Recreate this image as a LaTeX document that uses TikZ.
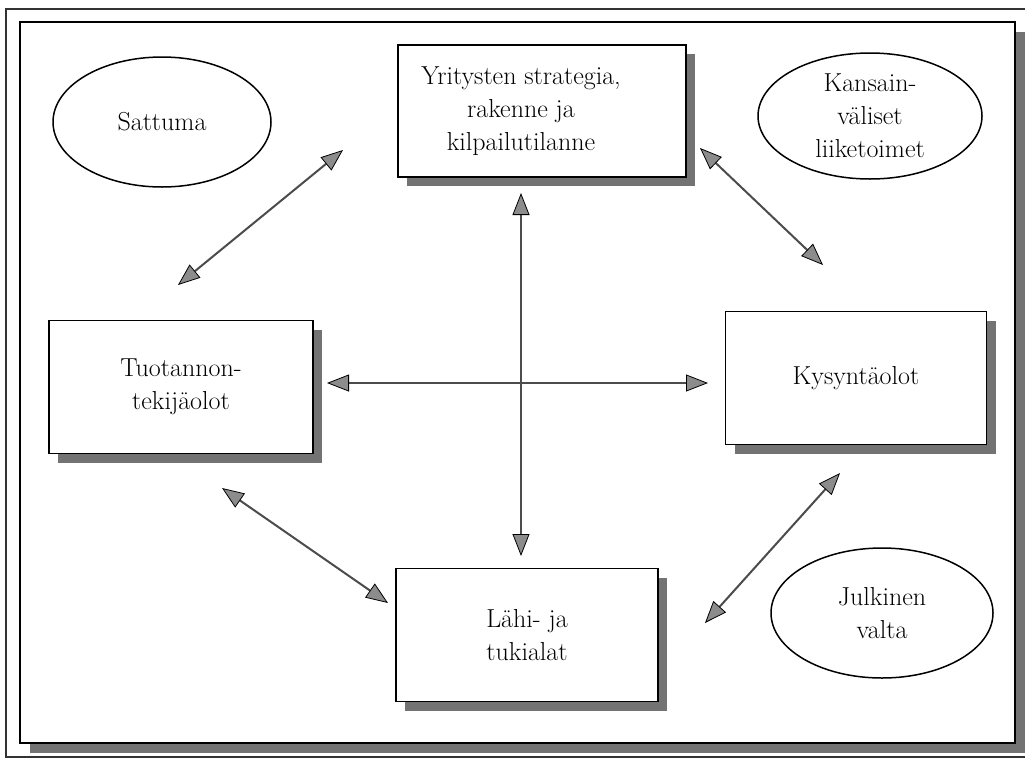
\documentclass[tikz,border=0pt]{standalone}
\usetikzlibrary{arrows.meta,shadows,shapes.geometric}
\begin{document}
\begin{tikzpicture}[x=1pt,y=-1pt,
  txt/.style={font=\fontsize{26}{33}\selectfont, align=center},
  shade/.style={fill=black!55},
  box/.style={draw=black, line width=1.6pt, fill=white, txt, inner sep=0pt,
    drop shadow={opacity=1, fill=black!55, shadow xshift=9pt, shadow yshift=-9pt}},
  oval/.style={draw=black, line width=1.5pt, ellipse, txt, inner sep=0pt},
  link/.style={line width=2pt, draw=black!70, {Triangle[length=22pt,width=17pt,fill=black!45,color=black,line width=0.8pt]}-{Triangle[length=22pt,width=17pt,fill=black!45,color=black,line width=0.8pt]}},
]
\useasboundingbox (0,0) rectangle (1025,761);
% outer border
\draw[line width=1.5pt, black!80] (1030,9) -- (6,9) -- (6,757) -- (1030,757);
% frame shadow and frame
\fill[shade] (30,32) rectangle (1025,753);
\draw[line width=1.8pt, fill=white] (20,22) rectangle (1015,743);

% boxes
\node[box, minimum width=288pt, minimum height=132pt,
  label={[txt, xshift=-21pt]center:{Yritysten strategia,\\ rakenne ja\\ kilpailutilanne}}]
  (strat) at (542,111) {};
\node[box, minimum width=264pt, minimum height=133pt] (tuot) at (181,387)
  {Tuotannon-\\ tekijäolot};
\node[box, minimum width=261pt, minimum height=133pt] (kys) at (856,378)
  {Kysyntäolot};
\node[box, minimum width=262pt, minimum height=133pt] (lahi) at (527,635)
  {Lähi- ja\\ tukialat};

% ellipses
\node[oval, minimum width=218pt, minimum height=130pt] (satt) at (162,122) {Sattuma};
\node[oval, minimum width=224pt, minimum height=126pt] (kans) at (870,116)
  {Kansain-\\ väliset\\ liiketoimet};
\node[oval, minimum width=222pt, minimum height=130pt] (julk) at (882,613)
  {Julkinen\\ valta};

% arrow end points
\coordinate (a1s) at (343,150); \coordinate (a1e) at (178,285);
\coordinate (a2s) at (700,148); \coordinate (a2e) at (823,265);
\coordinate (a3s) at (521,193); \coordinate (a3e) at (521,556);
\coordinate (a4s) at (327,383); \coordinate (a4e) at (708,383);
\coordinate (a5s) at (222,488); \coordinate (a5e) at (388,603);
\coordinate (a6s) at (840,473); \coordinate (a6e) at (705,623);

\draw[link] (a1s) -- (a1e);
\draw[link] (a2s) -- (a2e);
\draw[link] (a3s) -- (a3e);
\draw[link] (a4s) -- (a4e);
\draw[link] (a5s) -- (a5e);
\draw[link] (a6s) -- (a6e);
\end{tikzpicture}
\end{document}
